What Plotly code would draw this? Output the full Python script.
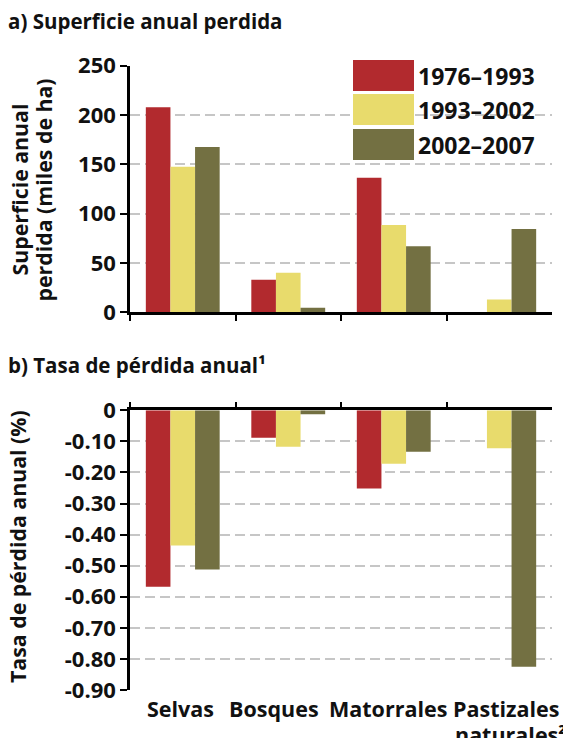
import plotly.graph_objects as go

# ---------------- data ----------------
categories = ["Selvas", "Bosques", "Matorrales", "Pastizales"]
category_labels = ["Selvas", "Bosques", "Matorrales", "Pastizales"]
category_labels_line2 = ["", "", "", "naturales²"]
periods = ["1976-1993", "1993-2002", "2002-2007"]

# a) Superficie anual perdida (miles de ha)
area_1976_1993 = [208, 33, 136.5, None]
area_1993_2002 = [147.5, 40, 88.5, 13]
area_2002_2007 = [167.5, 4.5, 67, 84.5]

# b) Tasa de pérdida anual (%)
rate_1976_1993 = [-0.568, -0.088, -0.252, None]
rate_1993_2002 = [-0.435, -0.117, -0.172, -0.122]
rate_2002_2007 = [-0.512, -0.013, -0.133, -0.825]

top_ticks = [0, 50, 100, 150, 200, 250]
bottom_ticks = [0, -0.1, -0.2, -0.3, -0.4, -0.5, -0.6, -0.7, -0.8, -0.9]
bottom_ticktext = ["0", "-0.10", "-0.20", "-0.30", "-0.40", "-0.50",
                   "-0.60", "-0.70", "-0.80", "-0.90"]

# ---------------- style ----------------
colors = ["#B22A2E", "#E8DB6C", "#737042"]
W, H = 563, 738
FONT = "Open Sans"
FS = 22
WT = 700
TXT = "#111111"
# left-edge offsets (px) of the category labels relative to the category centre
label_xshift = [-38, -61, -67, -48]
label2_xshift = [0, 0, 0, -46]

def px_x(x):
    return x / W

def px_y(y):
    return 1 - y / H

def f(size=FS):
    return dict(family=FONT, size=size, color=TXT, weight=WT)

fig = go.Figure()

top_series = [area_1976_1993, area_1993_2002, area_2002_2007]
bot_series = [rate_1976_1993, rate_1993_2002, rate_2002_2007]

for name, vals, col in zip(periods, top_series, colors):
    fig.add_trace(go.Bar(x=categories, y=vals, name=name, marker_color=col,
                         marker_line_width=0, xaxis="x", yaxis="y",
                         showlegend=False))
for name, vals, col in zip(periods, bot_series, colors):
    fig.add_trace(go.Bar(x=categories, y=vals, name=name, marker_color=col,
                         marker_line_width=0, xaxis="x2", yaxis="y2",
                         showlegend=False))

xdom = [px_x(130), px_x(552)]
grid = dict(showgrid=True, gridcolor="#c6c6c6", gridwidth=2, griddash="10px,5px")
axis_common = dict(showline=True, linecolor="black", linewidth=2.5,
                   ticks="outside", tickcolor="black", tickwidth=2, ticklen=7,
                   tickfont=f(), zeroline=False, automargin=False)
xcommon = dict(type="category", categoryorder="array", categoryarray=categories,
               range=[-0.5, len(categories) - 0.5], autorange=False,
               showline=True, linecolor="black", linewidth=2.5,
               ticks="outside", tickson="boundaries", tickcolor="black",
               tickwidth=2, ticklen=6, showticklabels=False, showgrid=False,
               zeroline=False, automargin=False)

fig.update_layout(
    template="none",
    width=W, height=H,
    margin=dict(l=0, r=0, t=0, b=0, autoexpand=False),
    paper_bgcolor="white", plot_bgcolor="white",
    barmode="group", bargap=0.3, bargroupgap=0,
    font=dict(family=FONT, size=FS, color=TXT),
    showlegend=False,
    xaxis=dict(domain=xdom, anchor="y", **xcommon),
    yaxis=dict(domain=[px_y(312.3), px_y(65.7)], anchor="x", range=[0, 250],
               tickvals=top_ticks, **grid, **axis_common),
    xaxis2=dict(domain=xdom, anchor="y2", side="top", **xcommon),
    yaxis2=dict(domain=[px_y(690), px_y(410.3)], anchor="x2", range=[-0.9, 0],
                tickvals=bottom_ticks, ticktext=bottom_ticktext,
                **grid, **axis_common),
)

ann = []
# panel titles
ann.append(dict(text="a) Superficie anual perdida", x=px_x(6), y=px_y(21),
                xref="paper", yref="paper", xanchor="left", yanchor="middle",
                showarrow=False, font=f(20.5)))
ann.append(dict(text="b) Tasa de pérdida anual¹", x=px_x(6), y=px_y(365),
                xref="paper", yref="paper", xanchor="left", yanchor="middle",
                showarrow=False, font=f(20.5)))
# y-axis titles (one annotation per line for exact spacing)
ann.append(dict(text="Superficie anual", x=px_x(19.5), y=px_y(190),
                xref="paper", yref="paper", xanchor="center", yanchor="middle",
                textangle=-90, showarrow=False, font=f(21.3)))
ann.append(dict(text="perdida (miles de ha)", x=px_x(43.5), y=px_y(190),
                xref="paper", yref="paper", xanchor="center", yanchor="middle",
                textangle=-90, showarrow=False, font=f(21.3)))
ann.append(dict(text="Tasa de pérdida anual (%)", x=px_x(17), y=px_y(547),
                xref="paper", yref="paper", xanchor="center", yanchor="middle",
                textangle=-90, showarrow=False, font=f(21.3)))
# category labels under the lower panel
for cat, lab, lab2, dx, dx2 in zip(categories, category_labels, category_labels_line2,
                                   label_xshift, label2_xshift):
    ann.append(dict(text=lab, x=cat, y=px_y(708.5), xref="x2", yref="paper",
                    xanchor="left", yanchor="middle", xshift=dx, showarrow=False,
                    font=f(21.5)))
    if lab2:
        ann.append(dict(text=lab2, x=cat, y=px_y(734), xref="x2", yref="paper",
                        xanchor="left", yanchor="middle", xshift=dx2, showarrow=False,
                        font=f(21.5)))

# custom legend (large swatches)
shapes = []
rows = [(60, 91), (94, 125), (129, 160)]
for name, col, (y0, y1) in zip(periods, colors, rows):
    shapes.append(dict(type="rect", xref="paper", yref="paper",
                       x0=px_x(353), x1=px_x(414), y0=px_y(y1), y1=px_y(y0),
                       fillcolor=col, line=dict(width=0)))
    ann.append(dict(text=name.replace("-", "–"), x=px_x(416), y=px_y((y0 + y1) / 2),
                    xref="paper", yref="paper", xanchor="left", yanchor="middle",
                    showarrow=False, font=f(23)))

fig.update_layout(annotations=ann, shapes=shapes)
fig.write_html("out.html", config={"displayModeBar": False},
               post_script="document.body.style.margin='0px';document.body.style.padding='0px';")
